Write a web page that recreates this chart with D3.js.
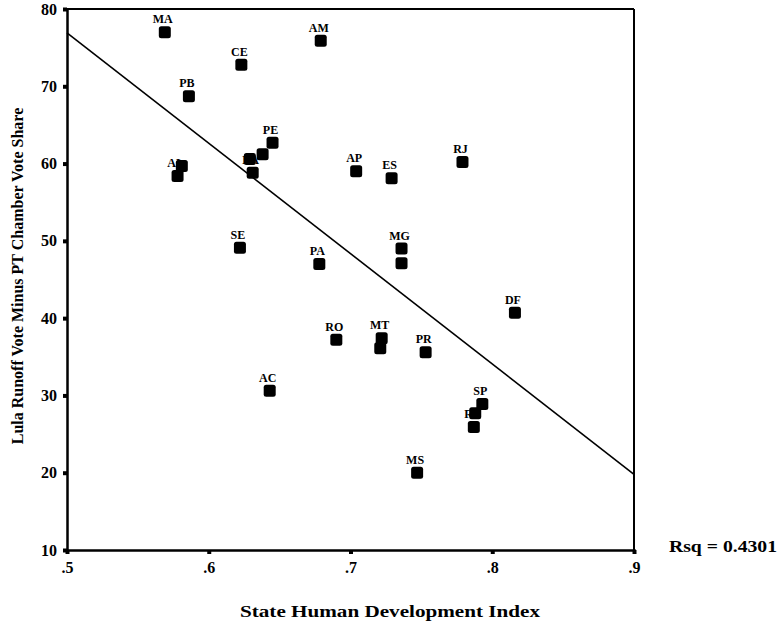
<!DOCTYPE html>
<html>
<head>
<meta charset="utf-8">
<script src="https://cdn.jsdelivr.net/npm/d3@7"></script>
<style>
  body { margin: 0; background: #fff; }
  text { font-family: "Liberation Serif", "DejaVu Serif", serif; font-weight: bold; fill: #000; }
</style>
</head>
<body>
<svg width="782" height="626"></svg>
<script>
// state labels (blank = point without a visible label)
var states = ["MA", "CE", "AM", "PB", "PE", "", "", "BA", "", "AL", "AP", "ES", "RJ",
              "SE", "PA", "MG", "", "DF", "RO", "MT", "", "PR", "AC", "SP", "", "RS", "MS"];
// state human development index
var hdi = [.569, .623, .679, .586, .645, .638, .629, .631, .581, .578, .704, .729, .779,
           .622, .678, .736, .736, .816, .690, .722, .721, .753, .643, .793, .788, .787, .747];
// Lula runoff vote minus PT chamber vote share
var share = [77.0, 72.8, 75.9, 68.7, 62.7, 61.2, 60.6, 58.8, 59.7, 58.4, 59.0, 58.1, 60.2,
             49.1, 47.0, 49.0, 47.1, 40.7, 37.2, 37.4, 36.1, 35.6, 30.6, 28.9, 27.7, 25.9, 20.0];

var xTicks = [.5, .6, .7, .8, .9];
var yTicks = [10, 20, 30, 40, 50, 60, 70, 80];
// fitted line end points
var fitX = [.5, .9];
var fitY = [76.9, 19.8];
var rsq = "Rsq = 0.4301";

var svg = d3.select("svg");
var pLeft = 67, pRight = 634, pTop = 9, pBottom = 550;

var x = d3.scaleLinear().domain([.5, .9]).range([pLeft, pRight]);
var y = d3.scaleLinear().domain([10, 80]).range([pBottom, pTop]);

// frame: top and right thin, left and bottom heavy
svg.append("line").attr("x1", pLeft).attr("x2", pRight).attr("y1", pTop).attr("y2", pTop)
  .attr("stroke", "#000").attr("stroke-width", 2);
svg.append("line").attr("x1", pRight).attr("x2", pRight).attr("y1", pTop).attr("y2", pBottom)
  .attr("stroke", "#000").attr("stroke-width", 2);

var yAxis = svg.append("g")
  .attr("transform", "translate(" + pLeft + ",0)")
  .call(d3.axisLeft(y).tickValues(yTicks).tickSize(4).tickPadding(6).tickFormat(d3.format("d")));
var xAxis = svg.append("g")
  .attr("transform", "translate(0," + pBottom + ")")
  .call(d3.axisBottom(x).tickValues(xTicks).tickSize(4).tickPadding(8)
    .tickFormat(function(d) { return d3.format(".1f")(d).replace("0.", "."); }));

[yAxis, xAxis].forEach(function(a) {
  a.select(".domain").attr("stroke", "#000").attr("stroke-width", 2.5);
  a.selectAll(".tick line").attr("stroke", "#000").attr("stroke-width", 4);
  a.selectAll(".tick text").style("font-size", "16px").style("font-family", "Liberation Serif")
    .style("font-weight", "bold");
});

// regression line
var line = d3.line().x(function(d) { return x(d[0]); }).y(function(d) { return y(d[1]); });
svg.append("path")
  .datum(d3.zip(fitX, fitY))
  .attr("d", line)
  .attr("fill", "none")
  .attr("stroke", "#000")
  .attr("stroke-width", 1.6);

var pts = d3.zip(states, hdi, share);

// labels go under the markers, as in the original
svg.append("g").selectAll("text")
  .data(pts.filter(function(d) { return d[0] !== ""; }))
  .enter().append("text")
  .attr("x", function(d) { return x(d[1]) - 2; })
  .attr("y", function(d) { return y(d[2]) - 9; })
  .attr("text-anchor", "middle")
  .style("font-size", "12px")
  .text(function(d) { return d[0]; });

svg.append("g").selectAll("rect")
  .data(pts)
  .enter().append("rect")
  .attr("x", function(d) { return x(d[1]) - 6; })
  .attr("y", function(d) { return y(d[2]) - 6; })
  .attr("width", 12)
  .attr("height", 12)
  .attr("rx", 2.5)
  .attr("fill", "#000");

// titles
svg.append("text")
  .attr("transform", "translate(23," + 276 + ") rotate(-90)")
  .attr("text-anchor", "middle")
  .style("font-size", "16px")
  .text("Lula Runoff Vote Minus PT Chamber Vote Share");

svg.append("text")
  .attr("x", 390).attr("y", 617)
  .attr("text-anchor", "middle")
  .attr("textLength", 300)
  .attr("lengthAdjust", "spacingAndGlyphs")
  .style("font-size", "17px")
  .text("State Human Development Index");

svg.append("text")
  .attr("x", 669).attr("y", 552)
  .attr("textLength", 108)
  .attr("lengthAdjust", "spacingAndGlyphs")
  .style("font-size", "16px")
  .text(rsq);
</script>
</body>
</html>
